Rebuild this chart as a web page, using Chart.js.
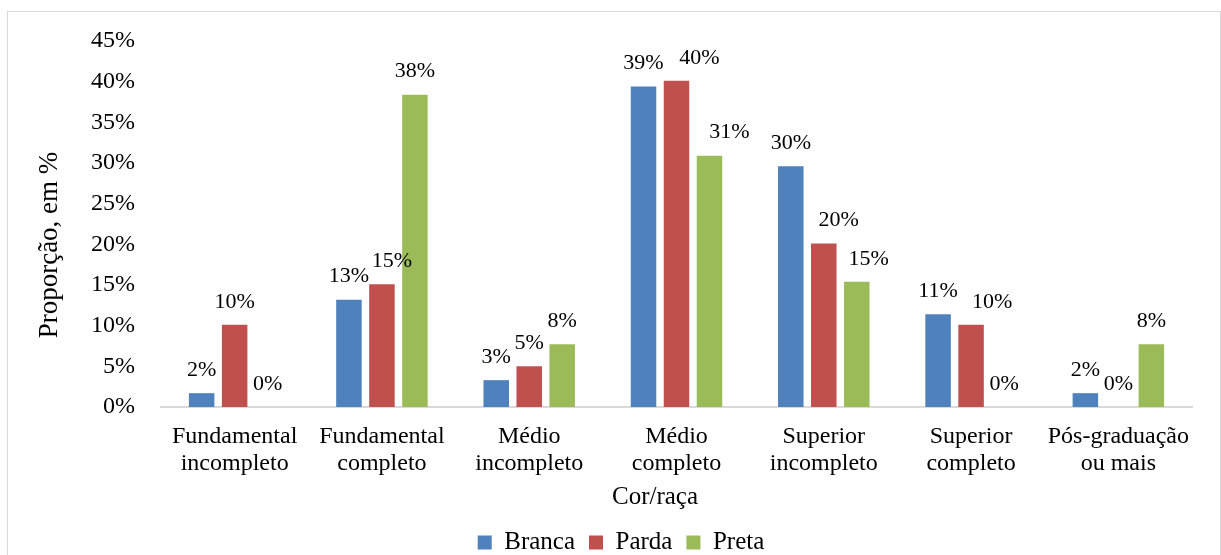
<!DOCTYPE html>
<html>
<head>
<meta charset="utf-8">
<script src="https://cdn.jsdelivr.net/npm/chart.js@4.4.1/dist/chart.umd.min.js"></script>
<style>
  html, body { margin: 0; padding: 0; background: #fff; overflow: hidden; }
  #frame { position: absolute; left: 7px; top: 11px; width: 1212px; height: 600px; border: 1px solid #d9d9d9; }
  #chart { position: absolute; left: 0; top: 0; }
</style>
</head>
<body>
<div id="frame"></div>
<canvas id="chart" width="1221" height="565"></canvas>
<script>
// Escolaridade por cor/raça (%)
const categories = [
    ['Fundamental', 'incompleto'],
    ['Fundamental', 'completo'],
    ['Médio', 'incompleto'],
    ['Médio', 'completo'],
    ['Superior', 'incompleto'],
    ['Superior', 'completo'],
    ['Pós-graduação', 'ou mais']
];
const seriesNames = ['Branca', 'Parda', 'Preta'];
const branca = [1.7, 13.2, 3.3, 39.4, 29.6, 11.4, 1.7];
const parda = [10.1, 15.1, 5.0, 40.1, 20.1, 10.1, 0];
const preta = [0, 38.4, 7.7, 30.9, 15.4, 0, 7.7];
const yTicks = [0, 5, 10, 15, 20, 25, 30, 35, 40, 45];

const colors = ['#4f81bd', '#c0504d', '#9bbb59'];
const serif = 'Liberation Serif';

// a few labels sit a bit to the right of their bar
const labelNudge = { '1-1': 10, '1-3': 23, '2-3': 20, '1-4': 15, '2-4': 12, '1-5': 21 };

const valueLabels = {
    id: 'valueLabels',
    afterDatasetsDraw(chart) {
        const ctx = chart.ctx;
        ctx.save();
        ctx.font = '22px "' + serif + '"';
        ctx.fillStyle = '#000';
        ctx.textAlign = 'center';
        ctx.textBaseline = 'middle';
        chart.data.datasets.forEach((ds, i) => {
            chart.getDatasetMeta(i).data.forEach((bar, j) => {
                const dx = labelNudge[i + '-' + j] || 0;
                ctx.fillText(Math.round(ds.data[j]) + '%', bar.x + dx, bar.y - 23);
            });
        });
        ctx.restore();
    }
};

const axisTitles = {
    id: 'axisTitles',
    afterDraw(chart) {
        const ctx = chart.ctx;
        ctx.save();
        ctx.fillStyle = '#000';
        ctx.textAlign = 'center';
        ctx.textBaseline = 'middle';
        ctx.font = '27px "' + serif + '"';
        ctx.translate(50, 245);
        ctx.rotate(-Math.PI / 2);
        ctx.fillText('Proporção, em %', 0, 0);
        ctx.restore();

        ctx.save();
        ctx.fillStyle = '#000';
        ctx.textAlign = 'center';
        ctx.textBaseline = 'middle';
        ctx.font = '25px "' + serif + '"';
        ctx.fillText('Cor/raça', 655, 497);
        ctx.restore();
    }
};

const datasets = [branca, parda, preta].map((values, i) => ({
    label: seriesNames[i],
    data: values,
    backgroundColor: colors[i],
    borderWidth: 0,
    categoryPercentage: 0.672,
    barPercentage: 0.773
}));

new Chart(document.getElementById('chart'), {
    type: 'bar',
    data: { labels: categories, datasets: datasets },
    plugins: [valueLabels, axisTitles],
    options: {
        responsive: false,
        animation: false,
        devicePixelRatio: 1,
        layout: { padding: { top: 41, left: 50, right: 29, bottom: 0 } },
        plugins: {
            tooltip: { enabled: false },
            legend: {
                position: 'bottom',
                labels: {
                    color: '#000',
                    font: { family: serif, size: 25 },
                    boxWidth: 14,
                    boxHeight: 14,
                    padding: 14
                }
            }
        },
        scales: {
            x: {
                grid: { display: false, drawTicks: false },
                border: { display: true, color: '#d9d9d9', width: 2 },
                ticks: {
                    color: '#000',
                    font: { family: serif, size: 24, lineHeight: 1.125 },
                    padding: 16,
                    maxRotation: 0,
                    autoSkip: false
                },
                afterFit(scale) { scale.height = 109; }
            },
            y: {
                min: 0,
                max: 45,
                grid: { display: false, drawTicks: false },
                border: { display: false },
                afterBuildTicks(scale) { scale.ticks = yTicks.map(v => ({ value: v })); },
                ticks: {
                    color: '#000',
                    font: { family: serif, size: 24 },
                    padding: 26,
                    callback: v => v + '%'
                },
                afterFit(scale) { scale.width = 111; }
            }
        }
    }
});
</script>
</body>
</html>
